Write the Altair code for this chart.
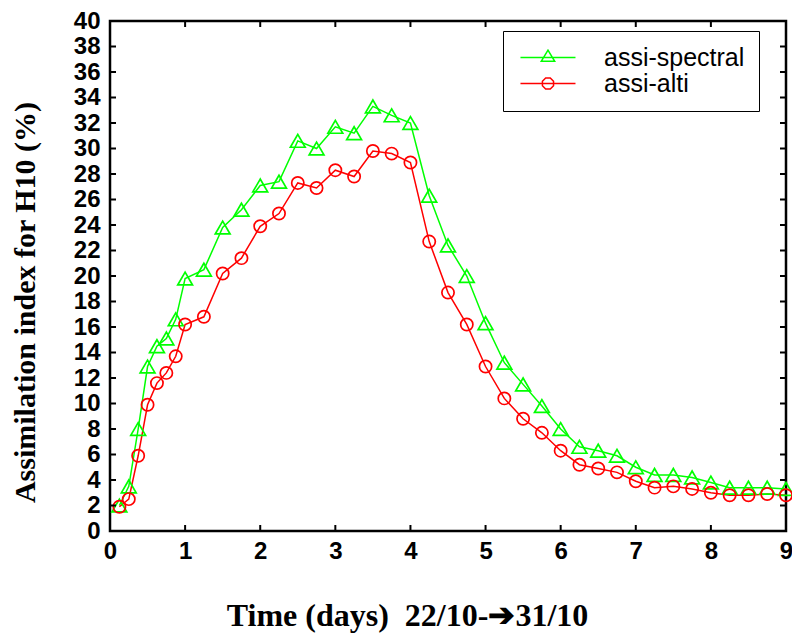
import altair as alt
import pandas as pd

# ---- data ----
days = [0.125, 0.25, 0.375, 0.5, 0.625, 0.75, 0.875, 1.0,
        1.25, 1.5, 1.75, 2.0, 2.25, 2.5, 2.75, 3.0, 3.25, 3.5, 3.75, 4.0,
        4.25, 4.5, 4.75, 5.0, 5.25, 5.5, 5.75, 6.0, 6.25, 6.5, 6.75, 7.0,
        7.25, 7.5, 7.75, 8.0, 8.25, 8.5, 8.75, 9.0]
assi_spectral = [2.0, 3.5, 8.0, 12.9, 14.5, 15.1, 16.6, 19.8,
                 20.5, 23.8, 25.2, 27.1, 27.4, 30.6, 30.0, 31.7, 31.2, 33.3, 32.6, 32.0,
                 26.3, 22.4, 20.0, 16.3, 13.2, 11.5, 9.8, 8.0, 6.6, 6.3, 5.9, 5.0,
                 4.4, 4.4, 4.2, 3.8, 3.4, 3.4, 3.4, 3.3]
assi_alti = [1.9, 2.5, 5.9, 9.9, 11.6, 12.4, 13.7, 16.2,
             16.8, 20.2, 21.4, 23.9, 24.9, 27.3, 26.9, 28.3, 27.8, 29.8, 29.6, 28.9,
             22.7, 18.7, 16.2, 12.9, 10.4, 8.8, 7.7, 6.3, 5.2, 4.9, 4.6, 3.9,
             3.4, 3.5, 3.3, 3.0, 2.8, 2.8, 2.9, 2.8]
series_names = ["assi-spectral", "assi-alti"]
series_colors = ["#00ff00", "#ff0000"]
x_ticks = [0, 1, 2, 3, 4, 5, 6, 7, 8, 9]
y_ticks = list(range(0, 41, 2))

x_title = "Time (days) \u00a022/10-\u279431/10"
y_title = "Assimilation index for H10 (%)"

df = pd.DataFrame({
    "day": days * 2,
    "value": assi_spectral + assi_alti,
    "series": [series_names[0]] * len(days) + [series_names[1]] * len(days),
})
xt = pd.DataFrame({"day": x_ticks})
yt = pd.DataFrame({"value": y_ticks})

W, H = 676, 510
xscale = alt.Scale(domain=[0, 9], nice=False, zero=False)
yscale = alt.Scale(domain=[0, 40], nice=False, zero=False)

x_axis = alt.Axis(values=x_ticks, ticks=False, domain=False, grid=False,
                  labelFont="Liberation Sans", labelFontWeight="bold", labelFontSize=24,
                  labelColor="black", labelPadding=8, labelFlush=False, labelOverlap=False,
                  title=x_title, titleFont="Liberation Serif", titleFontWeight="bold",
                  titleFontSize=32, titleColor="black", titleX=297, titleY=94,
                  titleAlign="center", titleBaseline="alphabetic")
y_axis = alt.Axis(values=y_ticks, ticks=False, domain=False, grid=False,
                  labelFont="Liberation Sans", labelFontWeight="bold", labelFontSize=24,
                  labelColor="black", labelPadding=10, labelOverlap=False, labelFlush=False,
                  title=y_title, titleFont="Liberation Serif", titleFontWeight="bold",
                  titleFontSize=30, titleColor="black", titleX=-76, titleY=281,
                  titleAngle=270, titleAlign="center", titleBaseline="alphabetic")

X = alt.X("day:Q", scale=xscale, axis=x_axis)
Y = alt.Y("value:Q", scale=yscale, axis=y_axis)

layers = []
# lines
for name, col in zip(series_names, series_colors):
    layers.append(
        alt.Chart(df).transform_filter(alt.datum.series == name)
        .mark_line(color=col, strokeWidth=1.5)
        .encode(x=X, y=Y)
    )
# markers
marker_shapes = ["triangle-up", "circle"]
marker_sizes = [220, 150]
for name, col, shp, sz in zip(series_names, series_colors, marker_shapes, marker_sizes):
    layers.append(
        alt.Chart(df).transform_filter(alt.datum.series == name)
        .mark_point(color=col, shape=shp, size=sz, filled=False, strokeWidth=1.7, opacity=1)
        .encode(x=X, y=Y)
    )

# legend symbols: line with marker
tri_path = "M-1.29,0H6.57M2.64,-1.05L3.6,0.55L1.68,0.55Z"
c = 2.64
oct_pts = [(0.795, 0.329), (0.329, 0.795), (-0.329, 0.795), (-0.795, 0.329),
           (-0.795, -0.329), (-0.329, -0.795), (0.329, -0.795), (0.795, -0.329)]
oct_path = "M-1.29,0H6.57M" + "L".join(f"{c + px:.3f},{py:.3f}" for px, py in oct_pts) + "Z"

legend = alt.Legend(title=None, orient="none", legendX=393, legendY=10,
                    strokeColor="black", padding=14, fillColor="white",
                    labelFont="Liberation Sans", labelFontSize=25, labelColor="black",
                    labelOffset=62, symbolSize=196, symbolStrokeWidth=1.5,
                    rowPadding=-3, labelLimit=300)
layers.append(
    alt.Chart(df).transform_filter("false")
    .mark_point(filled=False, strokeWidth=1.5, opacity=1)
    .encode(x=X, y=Y,
            color=alt.Color("series:N", scale=alt.Scale(domain=series_names, range=series_colors),
                            legend=legend, sort=series_names),
            shape=alt.Shape("series:N", scale=alt.Scale(domain=series_names, range=[tri_path, oct_path]),
                            legend=legend, sort=series_names))
)

# inward tick marks on all four sides
tk = 6
layers.append(alt.Chart(yt).mark_rule(color="black", strokeWidth=2).encode(
    y=Y, x=alt.value(0), x2=alt.value(tk)))
layers.append(alt.Chart(yt).mark_rule(color="black", strokeWidth=2).encode(
    y=Y, x=alt.value(W - tk), x2=alt.value(W)))
layers.append(alt.Chart(xt).mark_rule(color="black", strokeWidth=2).encode(
    x=X, y=alt.value(H - tk), y2=alt.value(H)))
layers.append(alt.Chart(xt).mark_rule(color="black", strokeWidth=2).encode(
    x=X, y=alt.value(0), y2=alt.value(tk)))

chart = alt.layer(*layers).properties(
    width=W, height=H,
    autosize=alt.AutoSizeParams(type="none"),
    padding={"left": 102, "top": 13, "right": 6, "bottom": 103},
    background="white",
).configure_view(stroke="black", strokeWidth=2.5)

chart.save("out.html", embed_options={"renderer": "svg", "actions": False})
